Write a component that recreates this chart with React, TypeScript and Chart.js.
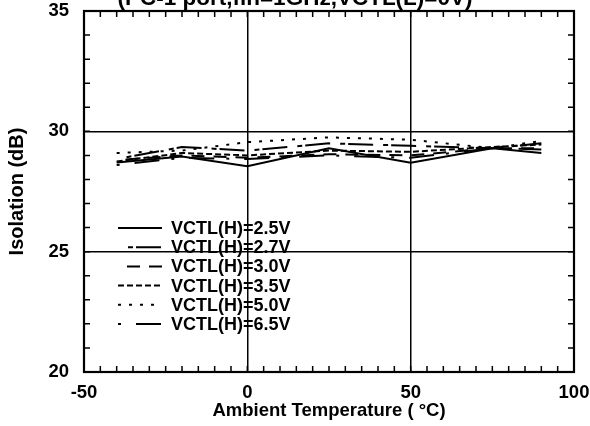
import { useEffect, useRef } from "react";
import { Chart, registerables } from "chart.js";

Chart.register(...registerables);

const temperatures = [-40, -20, 0, 25, 50, 75, 90];
const seriesLabels = [
  "VCTL(H)=2.5V",
  "VCTL(H)=2.7V",
  "VCTL(H)=3.0V",
  "VCTL(H)=3.5V",
  "VCTL(H)=5.0V",
  "VCTL(H)=6.5V",
];
const iso25 = [28.7, 28.95, 28.55, 29.3, 28.7, 29.3, 29.1];
const iso27 = [28.85, 29.35, 29.2, 29.5, 29.4, 29.3, 29.5];
const iso30 = [28.8, 29.0, 28.9, 29.05, 29.0, 29.3, 29.3];
const iso35 = [28.75, 29.1, 29.0, 29.2, 29.15, 29.35, 29.45];
const iso50 = [29.1, 29.2, 29.55, 29.75, 29.65, 29.3, 29.6];
const iso65 = [28.6, 28.9, 28.85, 29.0, 28.9, 29.3, 29.25];
const seriesValues = [iso25, iso27, iso30, iso35, iso50, iso65];
const dashes: number[][] = [[], [5, 3, 25, 10], [13, 9], [6, 3], [3, 8], [3, 15, 25, 12]];
const dashOffsets = [0, 33, 13, 0, 0, 0];

const xMin = -50, xMax = 100, xMajor = 50, xMinor = 5;
const yMin = 20, yMax = 35, yMajor = 5, yMinor = 1;
const titleText = "(PC-1 port,fin=1GHz,VCTL(L)=0V)";
const xTitle = "Ambient Temperature ( \u00B0C)";
const yTitle = "Isolation (dB)";

const FONT = '"Liberation Sans", Arial, Helvetica, sans-serif';

const decorPlugin = {
  id: "decor",
  afterDatasetsDraw(chart: any) {
    const ctx = chart.ctx;
    const x0 = 118, x1 = 162, tx = 171, y0 = 228, dy = 19.2;
    chart.data.datasets.forEach((ds: any, i: number) => {
      const y = y0 + i * dy;
      ctx.save();
      ctx.strokeStyle = "black";
      ctx.lineWidth = 2;
      ctx.setLineDash(ds.borderDash || []);
      ctx.lineDashOffset = ds.borderDashOffset || 0;
      ctx.beginPath();
      ctx.moveTo(x0, y);
      ctx.lineTo(x1, y);
      ctx.stroke();
      ctx.setLineDash([]);
      ctx.font = "bold 18px " + FONT;
      ctx.fillStyle = "black";
      ctx.textBaseline = "middle";
      ctx.textAlign = "left";
      ctx.fillText(ds.label, tx, y + 1);
      ctx.restore();
    });
  },
  afterDraw(chart: any) {
    const ctx = chart.ctx;
    const { left, right, top, bottom } = chart.chartArea;
    const xs = chart.scales.x;
    const ys = chart.scales.y;
    ctx.save();
    ctx.strokeStyle = "black";
    ctx.lineWidth = 1.5;
    ctx.beginPath();
    const tl = 6;
    for (let v = xMin + xMinor; v < xMax; v += xMinor) {
      const px = xs.getPixelForValue(v);
      ctx.moveTo(px, bottom);
      ctx.lineTo(px, bottom - tl);
      ctx.moveTo(px, top);
      ctx.lineTo(px, top + tl);
    }
    for (let v = yMin + yMinor; v < yMax; v += yMinor) {
      const py = ys.getPixelForValue(v);
      ctx.moveTo(left, py);
      ctx.lineTo(left + tl, py);
      ctx.moveTo(right, py);
      ctx.lineTo(right - tl, py);
    }
    ctx.stroke();
    ctx.lineWidth = 2.2;
    ctx.strokeRect(left, top, right - left, bottom - top);
    ctx.font = "bold 22.5px " + FONT;
    ctx.fillStyle = "black";
    ctx.textAlign = "center";
    ctx.textBaseline = "alphabetic";
    ctx.fillText(titleText, chart.width / 2, 5);
    ctx.restore();
  },
};

function fixX(s: any) {
  s.height = 54;
  s.paddingLeft = 0;
  s.paddingRight = 0;
  s.paddingTop = 0;
  s.paddingBottom = 0;
}
function fixY(s: any) {
  s.width = 84;
  s.paddingLeft = 0;
  s.paddingRight = 0;
  s.paddingTop = 0;
  s.paddingBottom = 0;
}

export default function App() {
  const ref = useRef<HTMLCanvasElement | null>(null);
  useEffect(() => {
    if (!ref.current) return;
    const chart = new Chart(ref.current, {
      type: "line",
      data: {
        datasets: seriesValues.map((vals, i) => ({
          label: seriesLabels[i],
          data: temperatures.map((t, j) => ({ x: t, y: vals[j] })),
          borderColor: "black",
          backgroundColor: "black",
          borderWidth: 2,
          borderDash: dashes[i],
          borderDashOffset: dashOffsets[i],
          pointRadius: 0,
          tension: 0,
          fill: false,
        })),
      },
      options: {
        animation: false,
        responsive: false,
        devicePixelRatio: 1,
        layout: { padding: { top: 11, right: 16, left: 0, bottom: 0 } },
        plugins: { legend: { display: false }, tooltip: { enabled: false }, title: { display: false } },
        scales: {
          x: {
            type: "linear",
            min: xMin,
            max: xMax,
            afterFit: fixX,
            ticks: { stepSize: xMajor, color: "black", padding: 10, font: { family: FONT, size: 18.5, weight: "bold" } },
            grid: { color: "black", lineWidth: 1.5, drawTicks: false },
            border: { display: false },
            title: { display: true, text: xTitle, color: "black", padding: { top: 0, bottom: 4 }, font: { family: FONT, size: 18.5, weight: "bold" } },
          },
          y: {
            type: "linear",
            min: yMin,
            max: yMax,
            afterFit: fixY,
            ticks: { stepSize: yMajor, color: "black", padding: 15, font: { family: FONT, size: 18.5, weight: "bold" } },
            grid: { color: "black", lineWidth: 1.5, drawTicks: false },
            border: { display: false },
            title: { display: true, text: yTitle, color: "black", padding: { top: 5, bottom: 0 }, font: { family: FONT, size: 20, weight: "bold" } },
          },
        },
      },
      plugins: [decorPlugin],
    });
    return () => chart.destroy();
  }, []);
  return (
    <div style={{ position: "absolute", left: 0, top: 0, width: 590, height: 426, background: "white" }}>
      <canvas ref={ref} width={590} height={426} />
    </div>
  );
}
